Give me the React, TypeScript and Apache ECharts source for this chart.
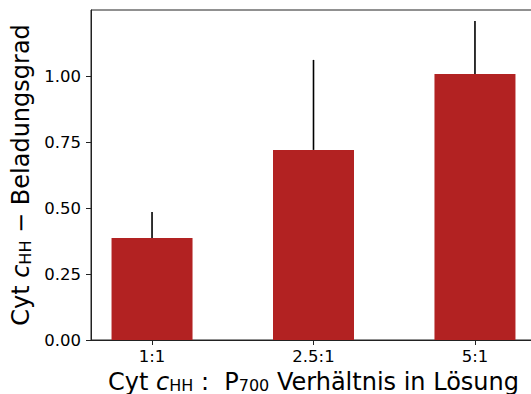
import React, { useEffect, useRef } from "react";
import * as echarts from "echarts";

const categories = ["1:1", "2.5:1", "5:1"];
const values = [0.386, 0.72, 1.008];
const errors = [0.099, 0.341, 0.2];
const yTicks = [0, 0.25, 0.5, 0.75, 1.0];

const FONT = "DejaVu Sans";

export default function App() {
  const ref = useRef<HTMLDivElement>(null);
  useEffect(() => {
    document.body.style.margin = "0";
    if (!ref.current) return;
    const chart = echarts.init(ref.current, null, { renderer: "svg" });
    const xs = categories.map((_, i) => i);
    const nameRich = {
      n: { fontFamily: FONT, fontSize: 24, color: "#000", lineHeight: 24 },
      i: { fontFamily: FONT, fontSize: 24, fontStyle: "italic", color: "#000", lineHeight: 24 },
      s: { fontFamily: FONT, fontSize: 16, color: "#000", lineHeight: 12, verticalAlign: "bottom" },
    };
    const option: any = {
      animation: false,
      backgroundColor: "#fff",
      grid: {
        left: 91,
        top: 10,
        width: 445,
        height: 330,
        outerBoundsMode: "none",
        containLabel: false,
        show: true,
        borderColor: "#222",
        borderWidth: 1,
        backgroundColor: "transparent",
      },
      xAxis: {
        type: "value",
        min: -0.378,
        max: 2.378,
        splitLine: { show: false },
        axisLine: { show: true, onZero: false, lineStyle: { color: "#222", width: 1 } },
        axisTick: {
          show: true,
          customValues: xs,
          length: 5,
          lineStyle: { color: "#222" },
        },
        axisLabel: {
          customValues: xs,
          formatter: (v: number) => categories[Math.round(v)] ?? "",
          fontFamily: FONT,
          fontSize: 16.5,
          color: "#000",
          margin: 8,
        },
        name: "{n|Cyt }{i|c}{s|HH}{n| :  P}{s|700}{n| Verhältnis in Lösung}",
        nameLocation: "middle",
        nameGap: 25,
        nameTextStyle: { rich: nameRich },
      },
      yAxis: {
        type: "value",
        min: 0,
        max: 1.25,
        interval: 0.25,
        splitLine: { show: false },
        axisLine: { show: true, onZero: false, lineStyle: { color: "#222", width: 1 } },
        axisTick: {
          show: true,
          customValues: yTicks,
          length: 5,
          lineStyle: { color: "#222" },
        },
        axisLabel: {
          customValues: yTicks,
          formatter: (v: number) => v.toFixed(2),
          fontFamily: FONT,
          fontSize: 16.5,
          color: "#000",
          margin: 10,
        },
        name: "{n|Cyt }{i|c}{s|HH}{n| − Beladungsgrad}",
        nameLocation: "middle",
        nameGap: 57,
        nameRotate: 90,
        nameTextStyle: { rich: nameRich },
      },
      series: [
        {
          type: "bar",
          data: xs.map((x, i) => [x, values[i]]),
          barWidth: 81,
          itemStyle: { color: "#b22222" },
        },
        {
          type: "custom",
          data: xs.map((x, i) => [x, values[i], errors[i]]),
          renderItem: (params: any, api: any) => {
            const x = api.value(0);
            const v = api.value(1);
            const e = api.value(2);
            const p0 = api.coord([x, v]);
            const p1 = api.coord([x, v + e]);
            return {
              type: "line",
              shape: { x1: p0[0], y1: p0[1], x2: p1[0], y2: p1[1] },
              style: { stroke: "#000", lineWidth: 1.6 },
            };
          },
          z: 5,
        },
      ],
    };
    chart.setOption(option);
    return () => chart.dispose();
  }, []);
  return <div ref={ref} style={{ width: 531, height: 394 }} />;
}
